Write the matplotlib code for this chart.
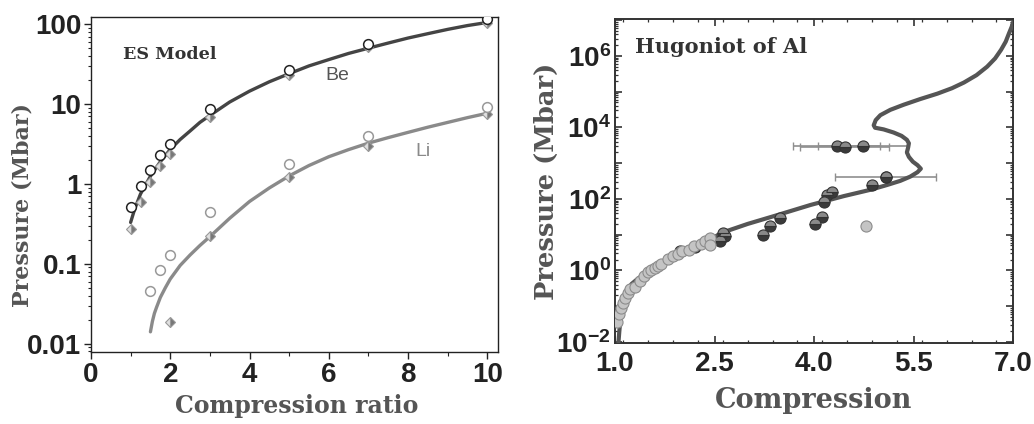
import matplotlib
matplotlib.use("Agg")
import matplotlib.pyplot as plt
import numpy as np
from matplotlib.ticker import LogLocator, FixedLocator, NullFormatter, FuncFormatter, MultipleLocator

# ---------------- Data: left panel (ES model) ----------------
be_curve_x = [1.0, 1.1, 1.25, 1.5, 1.75, 2.0, 2.25, 2.5, 2.75, 3.0, 3.5, 4.0, 4.5, 5.0, 5.5,
              6.0, 6.5, 7.0, 7.5, 8.0, 8.5, 9.0, 9.5, 10.0]
be_curve_p = [0.33, 0.48, 0.75, 1.25, 1.9, 2.7, 3.6, 4.6, 5.9, 7.2, 10.6, 14.5, 19, 24, 30,
              36, 43, 50, 58, 67, 76, 86, 96, 105]
li_curve_x = [1.5, 1.55, 1.6, 1.65, 1.75, 1.875, 2.0, 2.25, 2.5, 2.75, 3.0, 3.5, 4.0, 4.5, 5.0,
              5.5, 6.0, 6.5, 7.0, 7.5, 8.0, 8.5, 9.0, 9.5, 10.0]
li_curve_p = [0.0141, 0.0191, 0.024, 0.0282, 0.038, 0.0501, 0.0646, 0.0955, 0.129, 0.170, 0.219,
              0.372, 0.603, 0.891, 1.26, 1.70, 2.19, 2.69, 3.24, 3.80, 4.42, 5.13, 5.89, 6.76, 7.67]

be_circ_x = [1.0, 1.25, 1.5, 1.75, 2.0, 3.0, 5.0, 7.0, 10.0]
be_circ_p = [0.51, 0.95, 1.5, 2.3, 3.15, 8.6, 27, 56, 115]
be_diam_x = [1.0, 1.25, 1.5, 1.75, 2.0, 3.0, 5.0, 7.0, 10.0]
be_diam_p = [0.27, 0.6, 1.07, 1.7, 2.4, 6.8, 23, 52, 102]

li_circ_x = [1.5, 1.75, 2.0, 3.0, 5.0, 7.0, 10.0]
li_circ_p = [0.046, 0.083, 0.128, 0.45, 1.76, 4.0, 9.1]
li_diam_x = [2.0, 3.0, 5.0, 7.0, 10.0]
li_diam_p = [0.0188, 0.22, 1.23, 3.0, 7.5]

# ---------------- Data: right panel (Hugoniot of Al) ----------------
al_curve_x = [1.05, 1.065, 1.08, 1.1, 1.13, 1.18, 1.25, 1.35, 1.45, 1.68, 2.08, 2.35, 2.59, 3.0,
              3.44, 3.95, 4.45, 4.85, 5.10, 5.30, 5.45, 5.56, 5.61, 5.56, 5.49, 5.43, 5.40,
              5.42, 5.43, 5.40, 5.32, 5.20, 5.05, 4.92, 4.90, 4.93, 5.0, 5.15, 5.35, 5.60,
              5.86, 6.08, 6.26, 6.45, 6.61, 6.73, 6.82, 6.89, 6.94, 6.98, 7.0]
al_curve_p = [0.009, 0.02, 0.04, 0.08, 0.15, 0.28, 0.42, 0.6, 0.78, 1.4, 3.0, 5.5, 11, 20,
              35, 68, 120, 180, 245, 320, 420, 560, 700, 880, 1100, 1500, 2000,
              2800, 3600, 4500, 5800, 7200, 8800, 9800, 11500, 16000, 22000, 31000, 43000, 62000,
              88000, 125000, 180000, 290000, 500000, 850000, 1480000, 2500000, 4300000, 6500000, 8500000]

al_light_x = [1.03, 1.06, 1.09, 1.12, 1.15, 1.19, 1.23, 1.30, 1.38, 1.43, 1.50, 1.54, 1.60,
              1.65, 1.70, 1.80, 1.88, 1.95, 2.01, 2.11, 2.19, 2.30, 2.36, 2.43, 2.43, 4.78]
al_light_p = [0.035, 0.06, 0.09, 0.12, 0.17, 0.24, 0.30, 0.35, 0.52, 0.72, 0.89, 1.05, 1.15,
              1.32, 1.5, 2.1, 2.5, 2.8, 3.5, 3.8, 4.8, 5.6, 6.6, 7.9, 5.0, 18]

al_dark_x = [1.98, 2.21, 2.59, 2.66, 2.63, 3.23, 3.34, 3.48, 4.02, 4.12, 4.15, 4.19, 4.27, 4.88, 5.08]
al_dark_p = [3.4, 4.5, 6.8, 8.9, 11.0, 9.8, 17, 29, 20, 31, 84, 128, 158, 245, 420]

al_err_x = [4.34, 4.46, 4.74, 5.08]
al_err_p = [3000, 2800, 3000, 420]
al_err_dx = [0.65, 0.67, 0.68, 0.76]

# ---------------- Styling ----------------
plt.rcParams['mathtext.fontset'] = 'custom'
plt.rcParams['mathtext.rm'] = 'Liberation Sans:bold'
plt.rcParams['mathtext.bf'] = 'Liberation Sans:bold'
plt.rcParams['mathtext.it'] = 'Liberation Sans:bold'

TICKC = '#222222'
LABC = '#555555'

fig = plt.figure(figsize=(10.34, 4.24), dpi=100)

# ---------- Left panel ----------
ax1 = fig.add_axes([0.088, 0.170, 0.394, 0.790])
ax1.set_yscale('log')
ax1.plot(be_curve_x, be_curve_p, color='#444444', lw=2.4, zorder=2, solid_capstyle='round')
ax1.plot(li_curve_x, li_curve_p, color='#8a8a8a', lw=2.4, zorder=2, solid_capstyle='round')
ax1.plot(be_diam_x, be_diam_p, ls='none', marker='D', ms=5.5, fillstyle='right',
         markerfacecolor='#777777', markerfacecoloralt='#e0e0e0', markeredgecolor='#999999',
         markeredgewidth=0.8, zorder=3)
ax1.plot(li_diam_x, li_diam_p, ls='none', marker='D', ms=5.5, fillstyle='right',
         markerfacecolor='#777777', markerfacecoloralt='#e0e0e0', markeredgecolor='#999999',
         markeredgewidth=0.8, zorder=3)
ax1.plot(be_circ_x, be_circ_p, ls='none', marker='o', ms=7, markerfacecolor='white',
         markeredgecolor='#222222', markeredgewidth=1.1, zorder=4)
ax1.plot(li_circ_x, li_circ_p, ls='none', marker='o', ms=7, markerfacecolor='white',
         markeredgecolor='#999999', markeredgewidth=1.1, zorder=4)

ax1.set_xlim(0, 10.28)
ax1.set_ylim(0.0079, 123)
ax1.xaxis.set_major_locator(MultipleLocator(2))
ax1.xaxis.set_minor_locator(MultipleLocator(1))
ax1.yaxis.set_major_locator(FixedLocator([0.01, 0.1, 1, 10, 100]))
ax1.yaxis.set_minor_locator(LogLocator(base=10, subs=np.arange(2, 10), numticks=20))
ax1.yaxis.set_minor_formatter(NullFormatter())
ax1.yaxis.set_major_formatter(FuncFormatter(lambda v, p: {0.01: '0.01', 0.1: '0.1', 1: '1', 10: '10', 100: '100'}.get(round(v, 4), '')))
ax1.tick_params(which='major', direction='out', length=5, width=1, colors='#222222', labelsize=20, pad=2)
ax1.tick_params(which='minor', direction='out', length=3, width=0.8, colors='#222222')
ax1.tick_params(axis='y', which='minor', length=2.5)
for lab in ax1.get_xticklabels() + ax1.get_yticklabels():
    lab.set_fontfamily('Liberation Sans'); lab.set_fontweight('bold'); lab.set_color(TICKC)
for s in ax1.spines.values():
    s.set_color('#222222'); s.set_linewidth(1.0)

ax1.set_xlabel('Compression ratio', family='DejaVu Serif', weight='bold', size=17, color=LABC)
ax1.xaxis.set_label_coords(0.505, -0.125)
ax1.set_ylabel('Pressure (Mbar)', family='DejaVu Serif', weight='bold', size=16, color=LABC)
ax1.yaxis.set_label_coords(-0.14, 0.44)
ax1.text(0.078, 0.887, 'ES Model', transform=ax1.transAxes, family='DejaVu Serif',
         weight='bold', size=12.6, color='#333333', va='center', ha='left')
ax1.text(6.22, 22.6, 'Be', family='Liberation Sans', size=14, color='#555555', ha='center', va='center')
ax1.text(8.38, 2.55, 'Li', family='Liberation Sans', size=14, color='#8a8a8a', ha='center', va='center')

# ---------- Right panel ----------
ax2 = fig.add_axes([0.5948, 0.191, 0.3849, 0.764])
ax2.set_yscale('log')
ax2.errorbar(al_err_x, al_err_p, xerr=al_err_dx, fmt='none', ecolor='#8f8f8f', elinewidth=1.2,
             capsize=3, capthick=1.0, zorder=2)
ax2.plot(al_curve_x, al_curve_p, color='#555555', lw=3.0, zorder=3, solid_joinstyle='round')
ax2.plot(al_dark_x, al_dark_p, ls='none', marker='o', ms=8, fillstyle='bottom',
         markerfacecolor='#3a3a3a', markerfacecoloralt='#8a8a8a', markeredgecolor='#333333',
         markeredgewidth=0.8, zorder=4)
ax2.plot(al_light_x, al_light_p, ls='none', marker='o', ms=8, markerfacecolor='#c4c4c4',
         markeredgecolor='#8c8c8c', markeredgewidth=0.8, zorder=5)
ax2.plot(al_err_x, al_err_p, ls='none', marker='o', ms=8, fillstyle='bottom',
         markerfacecolor='#3a3a3a', markerfacecoloralt='#8a8a8a', markeredgecolor='#333333',
         markeredgewidth=0.8, zorder=4)

ax2.set_xlim(1.0, 7.0)
ax2.set_ylim(10 ** -2.03, 10 ** 7.03)
ax2.xaxis.set_major_locator(FixedLocator([1.0, 2.5, 4.0, 5.5, 7.0]))
ax2.xaxis.set_minor_locator(MultipleLocator(0.375))
ax2.xaxis.set_major_formatter(FuncFormatter(lambda v, p: f'{v:.1f}'))
ax2.yaxis.set_major_locator(FixedLocator([10.0 ** k for k in range(-2, 8)]))
ax2.yaxis.set_minor_locator(LogLocator(base=10, subs=np.arange(2, 10), numticks=20))
ax2.yaxis.set_minor_formatter(NullFormatter())

def yfmt(v, p):
    k = int(round(np.log10(v)))
    if k % 2 == 0 and -2 <= k <= 6:
        return r'$\mathbf{10^{%d}}$' % k
    return ''
ax2.yaxis.set_major_formatter(FuncFormatter(yfmt))
ax2.tick_params(which='major', direction='in', length=5, width=1.2, colors='#333333',
                labelsize=20, right=True, top=True, pad=3)
ax2.tick_params(axis='x', which='major', pad=6)
ax2.tick_params(which='minor', direction='in', length=2.5, width=0.9, colors='#333333',
                right=True, top=True)
for lab in ax2.get_xticklabels() + ax2.get_yticklabels():
    lab.set_fontfamily('Liberation Sans'); lab.set_fontweight('bold'); lab.set_color(TICKC)
for s in ax2.spines.values():
    s.set_color('#333333'); s.set_linewidth(1.4)

ax2.set_xlabel('Compression', family='DejaVu Serif', weight='bold', size=19.5, color=LABC)
ax2.xaxis.set_label_coords(0.5, -0.135)
ax2.set_ylabel('Pressure (Mbar)', family='DejaVu Serif', weight='bold', size=18.5, color=LABC)
ax2.yaxis.set_label_coords(-0.14, 0.50)
ax2.text(0.05, 0.915, 'Hugoniot of Al', transform=ax2.transAxes, family='DejaVu Serif',
         weight='bold', size=15, color='#333333', va='center', ha='left')

fig.savefig('out.png', dpi=100, facecolor='white')
